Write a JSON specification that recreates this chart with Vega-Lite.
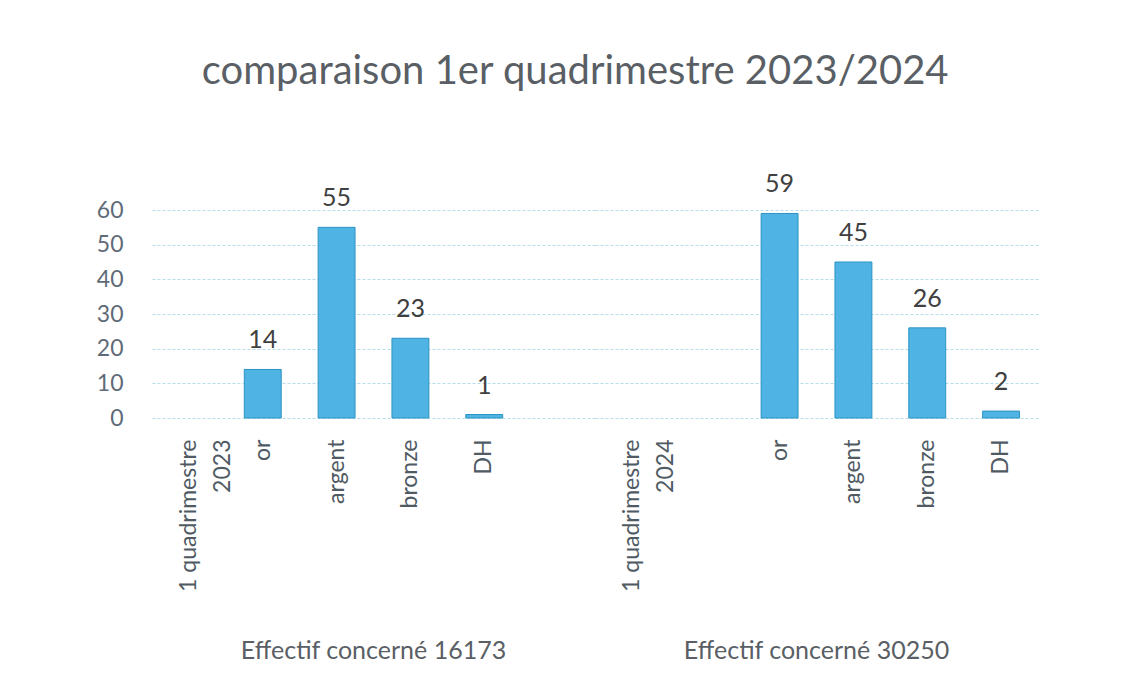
{
  "$schema": "https://vega.github.io/schema/vega-lite/v6.json",
  "background": "white",
  "padding": {"left": 96, "top": 52, "right": 10, "bottom": 5},
  "title": {
    "text": "comparaison 1er quadrimestre 2023/2024",
    "font": "Lato",
    "fontSize": 40,
    "fontWeight": "normal",
    "color": "#5a5f66",
    "anchor": "middle",
    "dx": 8,
    "offset": 80
  },
  "data": {
    "values": [
      {"groupe": "Effectif concerné 16173", "cat": "23a|1 quadrimestre|2023", "valeur": null},
      {"groupe": "Effectif concerné 16173", "cat": "23b|or", "valeur": 14},
      {"groupe": "Effectif concerné 16173", "cat": "23c|argent", "valeur": 55},
      {"groupe": "Effectif concerné 16173", "cat": "23d|bronze", "valeur": 23},
      {"groupe": "Effectif concerné 16173", "cat": "23e|DH", "valeur": 1},
      {"groupe": "Effectif concerné 16173", "cat": "23f|", "valeur": null},
      {"groupe": "Effectif concerné 30250", "cat": "24a|1 quadrimestre|2024", "valeur": null},
      {"groupe": "Effectif concerné 30250", "cat": "24b|", "valeur": null},
      {"groupe": "Effectif concerné 30250", "cat": "24c|or", "valeur": 59},
      {"groupe": "Effectif concerné 30250", "cat": "24d|argent", "valeur": 45},
      {"groupe": "Effectif concerné 30250", "cat": "24e|bronze", "valeur": 26},
      {"groupe": "Effectif concerné 30250", "cat": "24f|DH", "valeur": 2}
    ]
  },
  "facet": {
    "column": {
      "field": "groupe",
      "type": "nominal",
      "sort": ["Effectif concerné 16173", "Effectif concerné 30250"],
      "header": {
        "title": null,
        "labelOrient": "bottom",
        "labelFont": "Lato",
        "labelFontSize": 25,
        "labelColor": "#5a5f66",
        "labelPadding": 47
      }
    }
  },
  "spacing": 0,
  "resolve": {"scale": {"x": "independent"}, "axis": {"y": "shared"}},
  "spec": {
    "width": 443,
    "height": 208,
    "encoding": {
      "x": {
        "field": "cat",
        "type": "nominal",
        "sort": "ascending",
        "scale": {"paddingInner": 0.5, "paddingOuter": 0.25},
        "axis": {
          "title": null,
          "labelExpr": "slice(split(datum.value, '|'), 1)",
          "labelAngle": -90,
          "labelFont": "Lato",
          "labelFontSize": 23,
          "labelColor": "#4f5a63",
          "labelPadding": 21,
          "labelOverlap": false,
          "ticks": false,
          "domain": false,
          "grid": false,
          "labelLineHeight": 34
        }
      },
      "y": {
        "field": "valeur",
        "type": "quantitative",
        "scale": {"domain": [0, 60]},
        "axis": {
          "title": null,
          "values": [0, 10, 20, 30, 40, 50, 60],
          "labelOverlap": false,
          "labelFont": "Lato",
          "labelFontSize": 23,
          "labelColor": "#5f6b78",
          "labelPadding": 29,
          "ticks": false,
          "domain": false,
          "grid": true,
          "gridColor": "#b5dcea",
          "gridDash": [3, 2],
          "gridWidth": 1
        }
      }
    },
    "layer": [
      {
        "mark": {"type": "bar", "color": "#4FB4E4", "stroke": "#2C93C3", "strokeWidth": 1, "invalid": "show"},
        "encoding": {
          "strokeOpacity": {"condition": {"test": "datum.valeur == null", "value": 0}, "value": 1}
        }
      },
      {
        "transform": [{"filter": "datum.valeur != null"}],
        "mark": {"type": "text", "dy": -16, "font": "Lato", "fontSize": 25, "color": "#404040", "baseline": "bottom"},
        "encoding": {
          "text": {"field": "valeur", "type": "quantitative"}
        }
      }
    ]
  },
  "config": {
    "view": {"stroke": null}
  }
}
